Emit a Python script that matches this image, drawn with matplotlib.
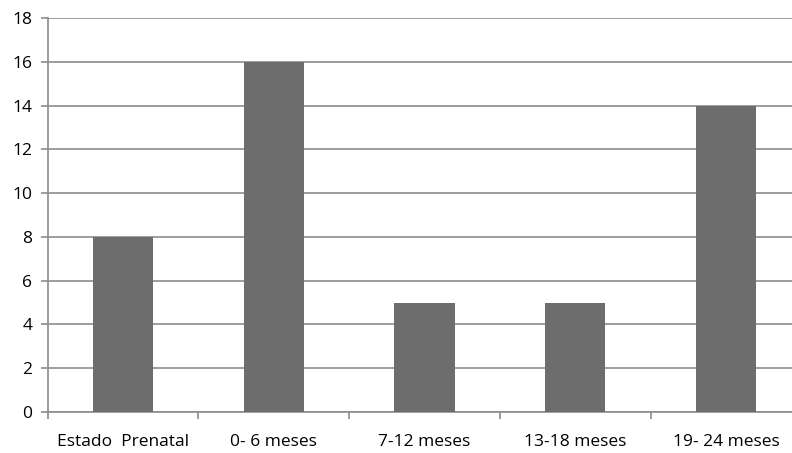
import matplotlib.pyplot as plt
import numpy as np

categories = ['Estado  Prenatal', '0- 6 meses', '7-12 meses', '13-18 meses', '19- 24 meses']
values = [8, 16, 5, 5, 14]
yticks = np.arange(0, 19, 2)

plt.rcParams['font.family'] = ['Open Sans', 'DejaVu Sans']

fig = plt.figure(figsize=(7.92, 4.53), dpi=100)
ax = fig.add_axes([0.0601, 0.0905, 0.9517, 0.8698])

x = np.arange(len(categories))
ax.bar(x, values, width=0.4, color='#6d6d6d', zorder=3)

ax.set_xlim(-0.5, len(categories) - 0.5)
ax.set_ylim(0, 18)
ax.set_yticks(yticks)
ax.set_yticklabels([str(v) for v in yticks], fontsize=12.5)
ax.yaxis.grid(True, color='#8c8c8c', linewidth=1.2, zorder=0)

ax.set_xticks(x)
ax.set_xticklabels(categories, fontsize=12.5)
ax.tick_params(axis='x', length=0, pad=16)
ax.set_xticks(np.arange(-0.5, len(categories)), minor=True)
ax.tick_params(axis='x', which='minor', length=5, color='#8c8c8c', width=1.2)
ax.tick_params(axis='y', length=5, color='#8c8c8c', width=1.2, pad=6)

for side in ['top', 'right']:
    ax.spines[side].set_visible(False)
for side in ['left', 'bottom']:
    ax.spines[side].set_color('#8c8c8c')
    ax.spines[side].set_linewidth(1.2)

fig.savefig('out.png', dpi=100)
